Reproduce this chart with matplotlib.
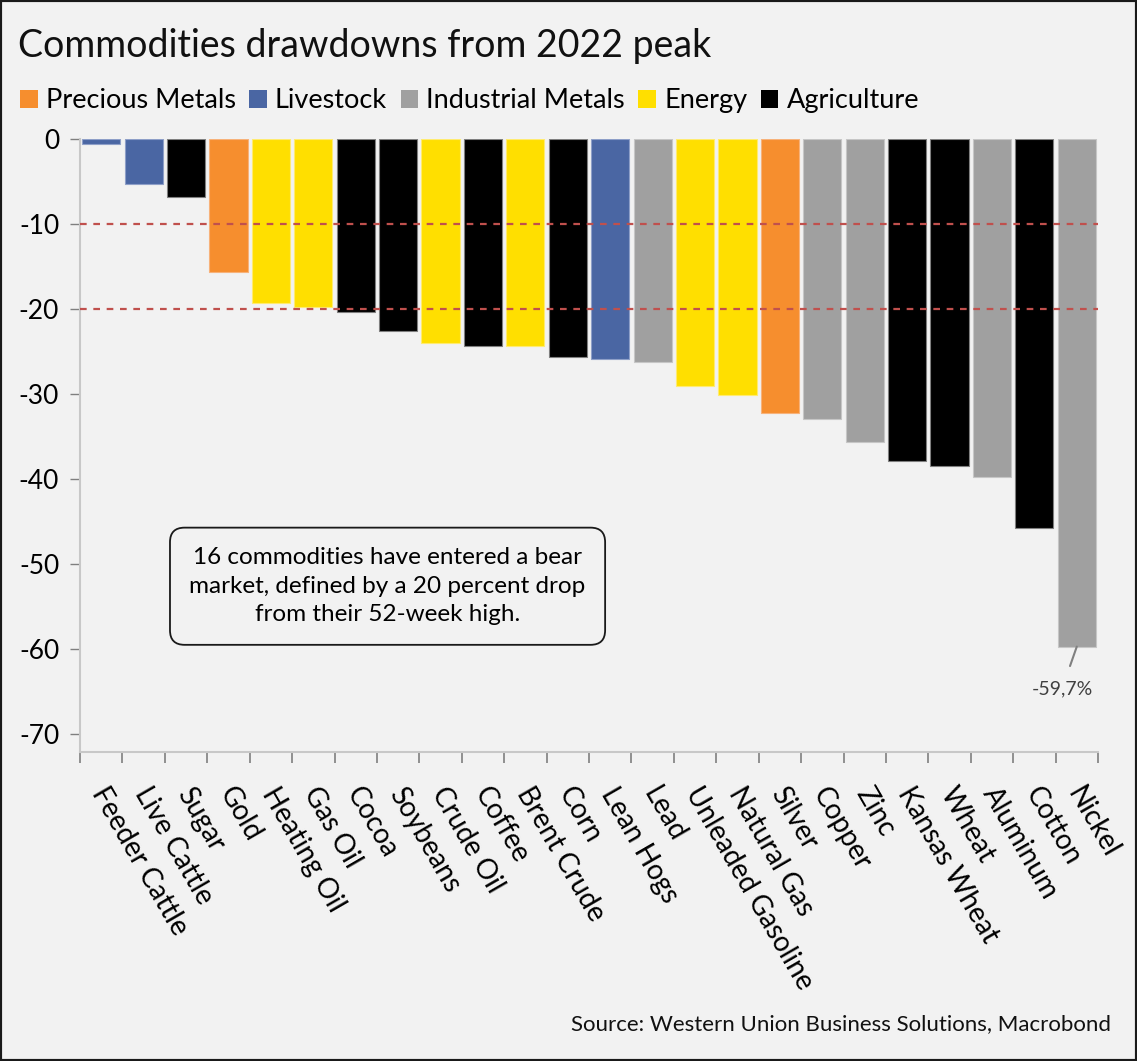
import matplotlib
matplotlib.use("Agg")
import matplotlib.pyplot as plt
import matplotlib.transforms as mtransforms
from matplotlib.patches import Patch, Rectangle
import numpy as np

plt.rcParams["font.family"] = ["Lato", "DejaVu Sans"]

commodities = ["Feeder Cattle", "Live Cattle", "Sugar", "Gold", "Heating Oil", "Gas Oil",
               "Cocoa", "Soybeans", "Crude Oil", "Coffee", "Brent Crude", "Corn",
               "Lean Hogs", "Lead", "Unleaded Gasoline", "Natural Gas", "Silver", "Copper",
               "Zinc", "Kansas Wheat", "Wheat", "Aluminum", "Cotton", "Nickel"]
drawdown = [-0.6, -5.3, -6.8, -15.6, -19.3, -19.8,
            -20.4, -22.6, -24.0, -24.3, -24.4, -25.6,
            -25.9, -26.2, -29.0, -30.1, -32.2, -32.9,
            -35.6, -37.9, -38.5, -39.7, -45.8, -59.7]
sector = ["Livestock", "Livestock", "Agriculture", "Precious Metals", "Energy", "Energy",
          "Agriculture", "Agriculture", "Energy", "Agriculture", "Energy", "Agriculture",
          "Livestock", "Industrial Metals", "Energy", "Energy", "Precious Metals", "Industrial Metals",
          "Industrial Metals", "Agriculture", "Agriculture", "Industrial Metals", "Agriculture", "Industrial Metals"]

sector_order = ["Precious Metals", "Livestock", "Industrial Metals", "Energy", "Agriculture"]
sector_colors = {"Precious Metals": "#F68E2E", "Livestock": "#4A66A3",
                 "Industrial Metals": "#A0A0A0", "Energy": "#FFDF00", "Agriculture": "#000000"}
edge_colors = {"Precious Metals": "#F7B27A", "Livestock": "#8E9FC8",
               "Industrial Metals": "#C6C6C6", "Energy": "#FFEB70", "Agriculture": "#7F7F7F"}
bear_lines = [-10, -20]

BG = "#F2F2F2"
fig = plt.figure(figsize=(11.37, 10.61), dpi=100, facecolor=BG)
ax = fig.add_axes([0.0704, 0.2912, 0.8953, 0.5778], facecolor=BG)

x = np.arange(len(commodities))
ax.bar(x, drawdown, width=0.9,
       color=[sector_colors[s] for s in sector],
       edgecolor=[edge_colors[s] for s in sector], linewidth=0.8, zorder=2)

for v in bear_lines:
    ax.axhline(v, color="#C0504D", linestyle=(0, (3, 3)), linewidth=1.6, zorder=3)

ax.set_xlim(-0.5, len(commodities) - 0.5)
ax.set_ylim(-72.1, 0)
ax.set_yticks(np.arange(0, -71, -10))
ax.set_yticklabels([f"{t}" if t == 0 else f"-{abs(t)}" for t in range(0, -71, -10)], fontsize=19)
ax.tick_params(axis="y", length=7, color="#7F7F7F", width=1, pad=8)

# labels at bar centres, tick marks at category boundaries
ax.set_xticks(x)
ax.set_xticklabels(commodities, rotation=-60, ha="left", va="top",
                   rotation_mode="anchor", fontsize=20)
ax.tick_params(axis="x", length=0, pad=22)
shift = mtransforms.ScaledTranslation(6 / 72, 0, fig.dpi_scale_trans)
for lbl in ax.get_xticklabels():
    lbl.set_transform(lbl.get_transform() + shift)
ax.set_xticks(np.arange(-0.5, len(commodities)), minor=True)
ax.tick_params(axis="x", which="minor", length=8, color="#7F7F7F", width=1.2)

for side in ["top", "right"]:
    ax.spines[side].set_visible(False)
for side in ["left", "bottom"]:
    ax.spines[side].set_color("#C8C8C8")
    ax.spines[side].set_linewidth(1.5)

# Nickel callout
ax.annotate("-59,7%", xy=(x[-1], drawdown[-1]), xytext=(x[-1] - 0.35, drawdown[-1] - 5.0),
            ha="center", va="center", fontsize=14, color="#404040",
            arrowprops=dict(arrowstyle="-", color="#808080", lw=1.5,
                            shrinkA=9, shrinkB=0))

ax.text(6.75, -52.6, "16 commodities have entered a bear\nmarket, defined by a 20 percent drop\nfrom their 52-week high.",
        ha="center", va="center", fontsize=17.5, linespacing=1.45, zorder=4,
        bbox=dict(boxstyle="round,pad=0.8,rounding_size=0.6", facecolor=BG,
                  edgecolor="#1A1A1A", linewidth=1.3))

fig.text(0.016, 0.957, "Commodities drawdowns from 2022 peak", fontsize=27,
         ha="left", va="center", color="#111111")

handles = [Patch(facecolor=sector_colors[s], edgecolor="none", label=s) for s in sector_order]
fig.legend(handles=handles, loc="center left", bbox_to_anchor=(0.008, 0.905), ncol=5,
           frameon=False, fontsize=19.5, handlelength=0.65, handleheight=0.65,
           handletextpad=0.3, columnspacing=0.5, borderaxespad=0)

fig.text(0.977, 0.035, "Source: Western Union Business Solutions, Macrobond",
         fontsize=16, ha="right", va="center", color="#111111")

fig.patches.append(Rectangle((0, 0), 1, 1, transform=fig.transFigure, fill=False,
                             edgecolor="#1A1A1A", linewidth=3))

fig.savefig("out.png", dpi=100, facecolor=BG)
